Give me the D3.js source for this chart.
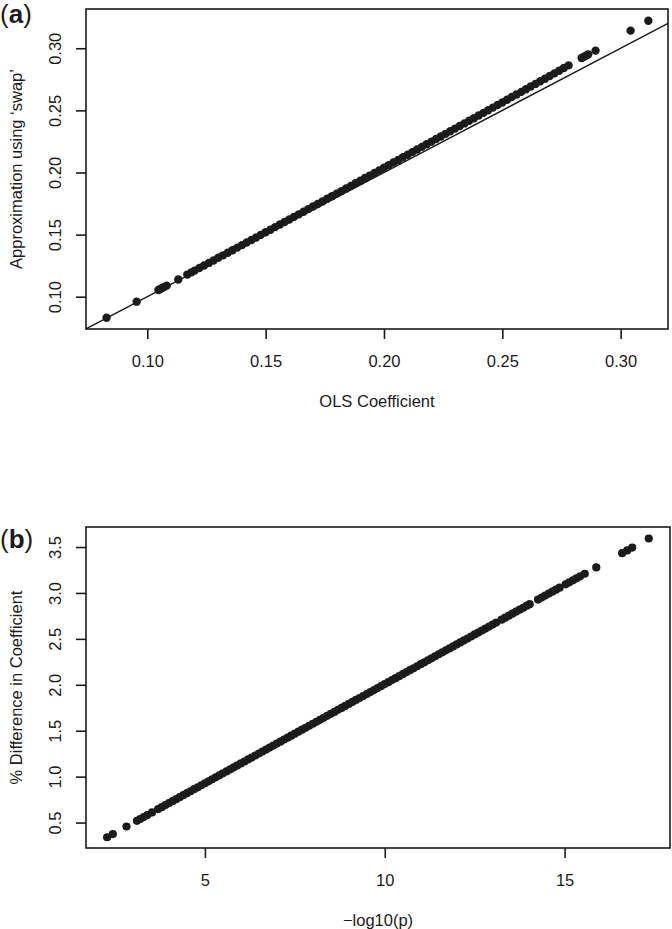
<!DOCTYPE html>
<html>
<head>
<meta charset="utf-8">
<script src="https://cdn.jsdelivr.net/npm/d3@7"></script>
<style>
  body { margin: 0; background: #fff; }
  svg { display: block; font-family: "Liberation Sans", Arial, sans-serif; }
</style>
</head>
<body>
<svg id="chart" width="672" height="929"></svg>
<script>
// Panel (a): OLS coefficient vs approximation using 'swap'
const olsCoef = [
  0.0828, 0.0955, 0.1047, 0.1055, 0.1063, 0.1072, 0.1082, 0.1131, 0.1169, 0.1186,
  0.120, 0.122, 0.124, 0.126, 0.128, 0.130, 0.132, 0.134, 0.136, 0.138,
  0.140, 0.142, 0.144, 0.146, 0.148, 0.150, 0.152, 0.154, 0.156, 0.158,
  0.160, 0.162, 0.164, 0.166, 0.168, 0.170, 0.172, 0.174, 0.176, 0.178,
  0.180, 0.182, 0.184, 0.186, 0.188, 0.190, 0.192, 0.194, 0.196, 0.198,
  0.200, 0.202, 0.204, 0.206, 0.208, 0.210, 0.212, 0.214, 0.216, 0.218,
  0.220, 0.222, 0.224, 0.226, 0.228, 0.230, 0.232, 0.234, 0.236, 0.238,
  0.240, 0.242, 0.244, 0.246, 0.248, 0.250, 0.252, 0.254, 0.256, 0.258,
  0.260, 0.262, 0.264, 0.266, 0.268, 0.270, 0.272, 0.274, 0.276, 0.278,
  0.2835, 0.2845, 0.2855, 0.2863, 0.2894, 0.3042, 0.3117
];
const swapApprox = [
  0.0831, 0.0960, 0.1054, 0.1062, 0.1070, 0.1079, 0.1089, 0.1139, 0.1178, 0.1196,
  0.1210, 0.1231, 0.1251, 0.1272, 0.1292, 0.1313, 0.1333, 0.1354, 0.1374, 0.1395,
  0.1415, 0.1436, 0.1457, 0.1477, 0.1498, 0.1519, 0.1539, 0.1560, 0.1581, 0.1601,
  0.1622, 0.1643, 0.1663, 0.1684, 0.1705, 0.1726, 0.1746, 0.1767, 0.1788, 0.1809,
  0.1830, 0.1850, 0.1871, 0.1892, 0.1913, 0.1934, 0.1955, 0.1975, 0.1996, 0.2017,
  0.2038, 0.2059, 0.2080, 0.2101, 0.2122, 0.2143, 0.2164, 0.2185, 0.2206, 0.2227,
  0.2248, 0.2269, 0.2290, 0.2311, 0.2332, 0.2353, 0.2374, 0.2395, 0.2416, 0.2437,
  0.2459, 0.2480, 0.2501, 0.2522, 0.2543, 0.2564, 0.2586, 0.2607, 0.2628, 0.2649,
  0.2670, 0.2692, 0.2713, 0.2734, 0.2755, 0.2777, 0.2798, 0.2819, 0.2841, 0.2862,
  0.2921, 0.2932, 0.2942, 0.2951, 0.2981, 0.3142, 0.3222
];
const ticksA = [0.10, 0.15, 0.20, 0.25, 0.30];

// Panel (b): -log10(p) vs % difference in coefficient
const negLogP = [
  2.28, 2.44, 2.82, 3.11, 3.20, 3.30, 3.40, 3.53,
  3.7, 3.8, 3.9, 4.0, 4.1, 4.2, 4.3, 4.4, 4.5, 4.6, 4.7, 4.8, 4.9,
  5.0, 5.1, 5.2, 5.3, 5.4, 5.5, 5.6, 5.7, 5.8, 5.9,
  6.0, 6.1, 6.2, 6.3, 6.4, 6.5, 6.6, 6.7, 6.8, 6.9,
  7.0, 7.1, 7.2, 7.3, 7.4, 7.5, 7.6, 7.7, 7.8, 7.9,
  8.0, 8.1, 8.2, 8.3, 8.4, 8.5, 8.6, 8.7, 8.8, 8.9,
  9.0, 9.1, 9.2, 9.3, 9.4, 9.5, 9.6, 9.7, 9.8, 9.9,
  10.0, 10.1, 10.2, 10.3, 10.4, 10.5, 10.6, 10.7, 10.8, 10.9,
  11.0, 11.1, 11.2, 11.3, 11.4, 11.5, 11.6, 11.7, 11.8, 11.9,
  12.0, 12.1, 12.2, 12.3, 12.4, 12.5, 12.6, 12.7, 12.8, 12.9,
  13.0, 13.1,
  13.25, 13.35, 13.45, 13.55, 13.65, 13.75, 13.85, 13.95, 14.03,
  14.26, 14.36, 14.46, 14.56, 14.66, 14.76, 14.86,
  15.03, 15.13, 15.23, 15.33, 15.43, 15.56,
  15.88, 16.60, 16.74, 16.88, 17.34
];
const pctDiff = [
  0.340, 0.375, 0.457, 0.519, 0.539, 0.560, 0.582, 0.610,
  0.647, 0.668, 0.690, 0.712, 0.733, 0.755, 0.776, 0.798, 0.820, 0.841, 0.863, 0.884, 0.906,
  0.928, 0.949, 0.971, 0.992, 1.014, 1.036, 1.057, 1.079, 1.100, 1.122,
  1.144, 1.165, 1.187, 1.208, 1.230, 1.252, 1.273, 1.295, 1.316, 1.338,
  1.360, 1.381, 1.403, 1.424, 1.446, 1.468, 1.489, 1.511, 1.532, 1.554,
  1.576, 1.597, 1.619, 1.640, 1.662, 1.684, 1.705, 1.727, 1.748, 1.770,
  1.792, 1.813, 1.835, 1.856, 1.878, 1.900, 1.921, 1.943, 1.964, 1.986,
  2.008, 2.029, 2.051, 2.072, 2.094, 2.116, 2.137, 2.159, 2.180, 2.202,
  2.224, 2.245, 2.267, 2.288, 2.310, 2.332, 2.353, 2.375, 2.396, 2.418,
  2.440, 2.461, 2.483, 2.504, 2.526, 2.548, 2.569, 2.591, 2.612, 2.634,
  2.656, 2.677,
  2.709, 2.731, 2.753, 2.774, 2.796, 2.818, 2.839, 2.861, 2.878,
  2.928, 2.950, 2.971, 2.993, 3.014, 3.036, 3.057,
  3.094, 3.116, 3.137, 3.159, 3.181, 3.209,
  3.278, 3.433, 3.463, 3.494, 3.593
];
const ticksBx = [5, 10, 15];
const ticksBy = [0.5, 1.0, 1.5, 2.0, 2.5, 3.0, 3.5];

const svg = d3.select('#chart');
const ink = '#1b1b1b';

function panel(opts) {
  const { left, right, top, bottom } = opts.box;
  const x = d3.scaleLinear().domain(opts.xDomain).range([left, right]);
  const y = d3.scaleLinear().domain(opts.yDomain).range([bottom, top]);
  const g = svg.append('g');

  // X axis
  const xa = g.append('g')
    .attr('transform', `translate(0,${bottom})`)
    .call(d3.axisBottom(x).tickValues(opts.xTicks).tickSize(10).tickFormat(opts.xFmt));
  xa.select('.domain').remove();
  xa.selectAll('line').attr('stroke', ink).attr('stroke-width', 1.6);
  xa.selectAll('text')
    .attr('y', 32).attr('dy', '0.36em')
    .attr('fill', ink).style('font-size', '16.5px').style('font-family', 'Liberation Sans, Arial, sans-serif');

  // Y axis (rotated labels, R style)
  const ya = g.append('g')
    .attr('transform', `translate(${left},0)`)
    .call(d3.axisLeft(y).tickValues(opts.yTicks).tickSize(10).tickFormat(opts.yFmt));
  ya.select('.domain').remove();
  ya.selectAll('line').attr('stroke', ink).attr('stroke-width', 1.6);
  ya.selectAll('text')
    .attr('x', 0)
    .attr('transform', 'translate(-31,0) rotate(-90)')
    .attr('dy', '0.36em')
    .attr('text-anchor', 'middle')
    .attr('fill', ink).style('font-size', '16.5px').style('font-family', 'Liberation Sans, Arial, sans-serif');

  // reference line y = x
  if (opts.abline) {
    const d0 = Math.max(opts.xDomain[0], opts.yDomain[0]);
    const d1 = Math.min(opts.xDomain[1], opts.yDomain[1]);
    g.append('line')
      .attr('x1', x(d0)).attr('y1', y(d0))
      .attr('x2', x(d1)).attr('y2', y(d1))
      .attr('stroke', ink).attr('stroke-width', 1.4);
  }

  // points
  g.append('g').selectAll('circle')
    .data(opts.xs.map((v, i) => [v, opts.ys[i]]))
    .join('circle')
    .attr('cx', d => x(d[0]))
    .attr('cy', d => y(d[1]))
    .attr('r', opts.r)
    .attr('fill', ink);

  // box
  g.append('rect')
    .attr('x', left).attr('y', top)
    .attr('width', right - left).attr('height', bottom - top)
    .attr('fill', 'none').attr('stroke', ink).attr('stroke-width', 1.6);

  // axis titles
  g.append('text')
    .attr('x', (left + right) / 2).attr('y', bottom + 72)
    .attr('dy', '0.36em').attr('text-anchor', 'middle')
    .attr('fill', ink).style('font-size', '16.5px')
    .text(opts.xLabel);
  g.append('text')
    .attr('transform', `translate(${left - 70},${(top + bottom) / 2}) rotate(-90)`)
    .attr('dy', '0.36em').attr('text-anchor', 'middle')
    .attr('fill', ink).style('font-size', '16.5px')
    .text(opts.yLabel);

  // panel tag
  const tag = g.append('text')
    .attr('x', 0).attr('y', opts.tagY)
    .attr('fill', ink).style('font-size', '26px');
  tag.append('tspan').text('(');
  tag.append('tspan').attr('font-weight', 'bold').text(opts.tag);
  tag.append('tspan').text(')');
}

panel({
  box: { left: 86, right: 668, top: 9, bottom: 329 },
  xDomain: [0.0741, 0.3200], yDomain: [0.0740, 0.3316],
  xTicks: ticksA, yTicks: ticksA,
  xFmt: d3.format('.2f'), yFmt: d3.format('.2f'),
  xs: olsCoef, ys: swapApprox, r: 4.2, abline: true,
  xLabel: 'OLS Coefficient', yLabel: 'Approximation using \u2018swap\u2019',
  tag: 'a', tagY: 23
});

panel({
  box: { left: 86, right: 670, top: 527, bottom: 848 },
  xDomain: [1.694, 17.93], yDomain: [0.223, 3.718],
  xTicks: ticksBx, yTicks: ticksBy,
  xFmt: d3.format('d'), yFmt: d3.format('.1f'),
  xs: negLogP, ys: pctDiff, r: 4.1, abline: false,
  xLabel: '\u2212log10(p)', yLabel: '% Difference in Coefficient',
  tag: 'b', tagY: 548
});
</script>
</body>
</html>
